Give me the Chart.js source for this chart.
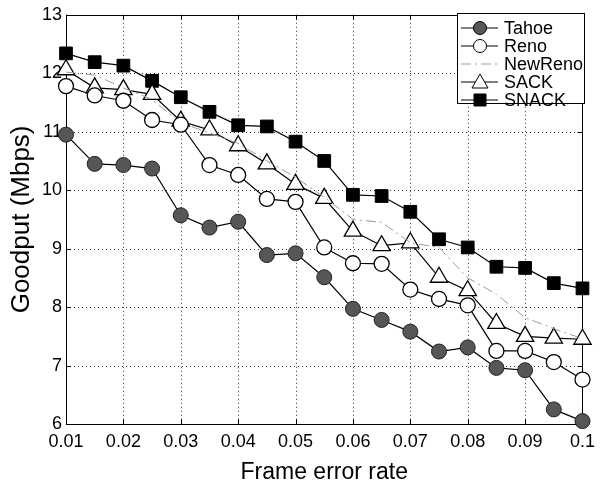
<!DOCTYPE html>
<html>
<head>
<meta charset="utf-8">
<script src="https://cdn.jsdelivr.net/npm/chart.js@4"></script>
<style>
  html, body { margin: 0; padding: 0; background: #fff; }
  #wrap { width: 602px; height: 486px; }
</style>
</head>
<body>
<div id="wrap"><canvas id="chart" width="602" height="486"></canvas></div>
<script>
// frame error rate
const errorRates = [0.01, 0.015, 0.02, 0.025, 0.03, 0.035, 0.04, 0.045, 0.05, 0.055,
                    0.06, 0.065, 0.07, 0.075, 0.08, 0.085, 0.09, 0.095, 0.1];
const tahoe   = [10.95, 10.45, 10.43, 10.37, 9.57, 9.36, 9.46, 8.89, 8.92, 8.51,
                 7.97, 7.78, 7.58, 7.24, 7.31, 6.96, 6.92, 6.25, 6.05];
const reno    = [11.78, 11.62, 11.53, 11.2, 11.12, 10.43, 10.26, 9.85, 9.8, 9.02,
                 8.75, 8.74, 8.3, 8.14, 8.03, 7.25, 7.25, 7.06, 6.76];
const newReno = [12.02, 11.97, 11.75, 11.55, 11.15, 10.98, 10.8, 10.5, 10.22, 9.88,
                 9.5, 9.45, 9.1, 9.02, 8.5, 8.22, 7.82, 7.63, 7.46];
const sack    = [12.06, 11.75, 11.72, 11.64, 11.18, 11.03, 10.76, 10.45, 10.1, 9.86,
                 9.3, 9.05, 9.1, 8.51, 8.28, 7.72, 7.5, 7.47, 7.45];
const snack   = [12.34, 12.19, 12.13, 11.87, 11.59, 11.34, 11.11, 11.09, 10.83, 10.5,
                 9.92, 9.9, 9.63, 9.16, 9.02, 8.69, 8.67, 8.41, 8.32];
const xTicks = [0.01, 0.02, 0.03, 0.04, 0.05, 0.06, 0.07, 0.08, 0.09, 0.1];
const yTicks = [6, 7, 8, 9, 10, 11, 12, 13];

const FONT = "'Liberation Sans', Arial, sans-serif";

function pts(ys) {
    return ys.map((y, i) => ({ x: errorRates[i], y: y }));
}

// dotted grid, frame and inward tick marks like the original plot
const framePlugin = {
    id: 'frame',
    beforeDatasetsDraw(chart) {
        const { ctx, chartArea: a, scales } = chart;
        ctx.save();
        // dotted grid
        ctx.strokeStyle = '#333';
        ctx.lineWidth = 1;
        ctx.setLineDash([1, 3]);
        ctx.beginPath();
        xTicks.forEach(v => {
            const px = Math.round(scales.x.getPixelForValue(v)) + 0.5;
            ctx.moveTo(px, a.top); ctx.lineTo(px, a.bottom);
        });
        yTicks.forEach(v => {
            const py = Math.round(scales.y.getPixelForValue(v)) + 0.5;
            ctx.moveTo(a.left, py); ctx.lineTo(a.right, py);
        });
        ctx.stroke();
        // ticks and frame
        ctx.strokeStyle = '#000';
        ctx.setLineDash([]);
        ctx.beginPath();
        xTicks.forEach(v => {
            const px = Math.round(scales.x.getPixelForValue(v)) + 0.5;
            ctx.moveTo(px, a.bottom); ctx.lineTo(px, a.bottom - 5);
            ctx.moveTo(px, a.top); ctx.lineTo(px, a.top + 5);
        });
        yTicks.forEach(v => {
            const py = Math.round(scales.y.getPixelForValue(v)) + 0.5;
            ctx.moveTo(a.left, py); ctx.lineTo(a.left + 5, py);
            ctx.moveTo(a.right, py); ctx.lineTo(a.right - 5, py);
        });
        ctx.stroke();
        ctx.strokeRect(Math.round(a.left) + 0.5, Math.round(a.top) + 0.5,
                       Math.round(a.right - a.left), Math.round(a.bottom - a.top));
        ctx.restore();
    }
};

// legend box in the top right corner
const legendPlugin = {
    id: 'boxLegend',
    afterDatasetsDraw(chart) {
        const { ctx } = chart;
        const boxW = 127, boxH = 90;
        const bx = 457, by = 13;
        ctx.save();
        ctx.fillStyle = '#fff';
        ctx.fillRect(bx, by, boxW, boxH);
        ctx.strokeStyle = '#000';
        ctx.lineWidth = 1;
        ctx.strokeRect(bx + 0.5, by + 0.5, boxW, boxH);
        chart.data.datasets.forEach((ds, i) => {
            const y = by + 15 + i * 18;
            const cx = bx + 23;
            ctx.setLineDash(ds.borderDash || []);
            ctx.strokeStyle = ds.borderColor;
            ctx.lineWidth = 1;
            ctx.beginPath();
            ctx.moveTo(bx + 4, y); ctx.lineTo(bx + 41, y);
            ctx.stroke();
            ctx.setLineDash([]);
            if (ds.pointRadius > 0) {
                ctx.fillStyle = ds.pointBackgroundColor;
                ctx.strokeStyle = '#000';
                ctx.beginPath();
                if (ds.pointStyle === 'circle') {
                    ctx.arc(cx, y, 6.5, 0, Math.PI * 2);
                } else if (ds.pointStyle === 'rect') {
                    ctx.rect(cx - 6, y - 6, 12, 12);
                } else {
                    ctx.moveTo(cx, y - 8);
                    ctx.lineTo(cx + 8, y + 6);
                    ctx.lineTo(cx - 8, y + 6);
                    ctx.closePath();
                }
                ctx.fill();
                ctx.stroke();
            }
            ctx.fillStyle = '#000';
            ctx.font = '18px ' + FONT;
            ctx.textBaseline = 'middle';
            ctx.textAlign = 'left';
            ctx.fillText(ds.label, bx + 47, y + 1);
        });
        ctx.restore();
    }
};

const ctx = document.getElementById('chart').getContext('2d');
new Chart(ctx, {
    type: 'line',
    data: {
        datasets: [
            {
                label: 'Tahoe',
                data: pts(tahoe),
                borderColor: '#000',
                borderWidth: 1.2,
                pointStyle: 'circle',
                pointRadius: 7.5,
                pointBackgroundColor: '#565656',
                pointBorderColor: '#222',
                pointBorderWidth: 1
            },
            {
                label: 'Reno',
                data: pts(reno),
                borderColor: '#000',
                borderWidth: 1.2,
                pointStyle: 'circle',
                pointRadius: 7.5,
                pointBackgroundColor: '#fff',
                pointBorderColor: '#000',
                pointBorderWidth: 1.3
            },
            {
                label: 'NewReno',
                data: pts(newReno),
                borderColor: '#9a9a9a',
                borderWidth: 1,
                borderDash: [10, 4, 2, 4],
                pointRadius: 0
            },
            {
                label: 'SACK',
                data: pts(sack),
                borderColor: '#000',
                borderWidth: 1.2,
                pointStyle: 'triangle',
                pointRadius: 10,
                pointBackgroundColor: '#fff',
                pointBorderColor: '#000',
                pointBorderWidth: 1.3
            },
            {
                label: 'SNACK',
                data: pts(snack),
                borderColor: '#000',
                borderWidth: 1.2,
                pointStyle: 'rect',
                pointRadius: 9,
                pointBackgroundColor: '#000',
                pointBorderColor: '#000',
                pointBorderWidth: 1
            }
        ]
    },
    options: {
        responsive: false,
        animation: false,
        clip: false,
        layout: { padding: { left: 0, right: 14, top: 12, bottom: 0 } },
        plugins: {
            legend: { display: false },
            tooltip: { enabled: false }
        },
        scales: {
            x: {
                type: 'linear',
                min: 0.01,
                max: 0.1,
                afterBuildTicks: s => { s.ticks = xTicks.map(v => ({ value: v })); },
                afterFit: s => { s.height = 62; },
                ticks: {
                    color: '#000',
                    font: { family: FONT, size: 18 },
                    padding: 7,
                    maxRotation: 0,
                    autoSkip: false,
                    callback: v => (v === 0.1 ? '0.1' : v.toFixed(2))
                },
                grid: { display: false, drawTicks: false },
                border: { display: false },
                title: {
                    display: true,
                    text: 'Frame error rate',
                    color: '#000',
                    font: { family: FONT, size: 23 },
                    padding: { top: 0, bottom: 0 }
                }
            },
            y: {
                min: 6,
                max: 13,
                afterBuildTicks: s => { s.ticks = yTicks.map(v => ({ value: v })); },
                afterFit: s => { s.width = 66; },
                ticks: {
                    color: '#000',
                    font: { family: FONT, size: 18 },
                    padding: 4
                },
                grid: { display: false, drawTicks: false },
                border: { display: false },
                title: {
                    display: true,
                    text: 'Goodput (Mbps)',
                    color: '#000',
                    font: { family: FONT, size: 26 },
                    padding: { top: 6, bottom: 0 }
                }
            }
        }
    },
    plugins: [framePlugin, legendPlugin]
});
</script>
</body>
</html>
